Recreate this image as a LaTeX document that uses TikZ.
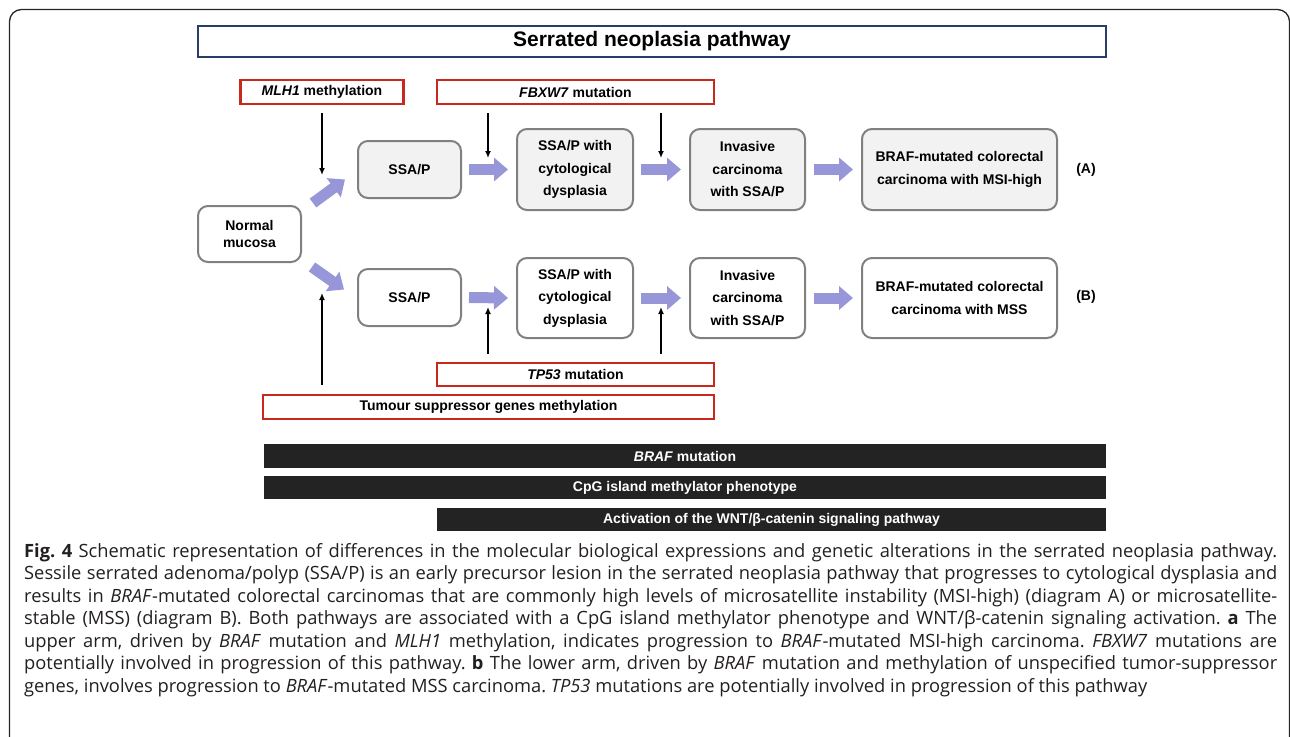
\documentclass[tikz,border=0pt]{standalone}
\usepackage{fontspec}
\setmainfont{Liberation Sans}
\newfontfamily\capfont{Open Sans}
\usetikzlibrary{arrows.meta,calc}
\definecolor{lav}{RGB}{150,150,216}
\definecolor{redb}{RGB}{200,40,30}
\definecolor{navy}{RGB}{40,62,105}
\definecolor{boxgray}{RGB}{128,128,128}
\definecolor{fillgray}{RGB}{242,242,242}
\definecolor{barcol}{RGB}{35,35,35}
\definecolor{captext}{RGB}{35,31,32}
\frenchspacing
\begin{document}
\begin{tikzpicture}[x=1pt,y=-1pt,
  every node/.style={font=\bfseries\fontsize{14}{22.5}\selectfont, inner sep=0pt},
  stagebox/.style={draw=boxgray, line width=2pt, rounded corners=10pt, align=center, fill=white},
  stageA/.style={stagebox, fill=fillgray},
  redbox/.style={draw=redb, line width=2.5pt, fill=white},
  titlebox/.style={draw=navy, line width=2.5pt, fill=white, font=\bfseries\fontsize{21}{24}\selectfont},
  barbox/.style={fill=barcol, text=white},
  fat/.style={draw=lav, line width=11pt, -{Triangle[length=14pt,width=23pt]}},
  tarrow/.style={draw=black, line width=1.5pt, -{Latex[length=7pt,width=6pt]}},
  capline/.style={anchor=base west, font=\capfont\fontsize{18.3}{23}\selectfont\frenchspacing, text=captext, inner sep=0pt}
]
\useasboundingbox (0,0) rectangle (1290,736);
\clip (0,0) rectangle (1290,736);
\draw[line width=1.3pt, black!85, rounded corners=12pt] (9.5,9.5) rectangle (1289.5,760);

% title
\node[titlebox, minimum width=908pt, minimum height=31pt] (title) at (652,41.5) {Serrated neoplasia pathway};

% red label boxes
\node[redbox, minimum width=163pt, minimum height=24pt] (mlh) at (322,92) {\textit{MLH1} methylation};
\node[redbox, minimum width=277pt, minimum height=24pt] (fbx) at (575.5,92) {\textit{FBXW7} mutation};
\node[redbox, minimum width=277pt, minimum height=23pt] (tp) at (575.5,374.5) {\textit{TP53} mutation};
\node[redbox, minimum width=451pt, minimum height=24pt] (tsg) at (488.5,407) {Tumour suppressor genes methylation};

% stage boxes
\node[stagebox, minimum width=103pt, minimum height=56pt] (norm) at (249.5,234) {Normal\\[-5pt]mucosa};
\node[stageA, minimum width=103pt, minimum height=57pt] (ssaA) at (409.5,169.5) {SSA/P};
\node[stageA, minimum width=116pt, minimum height=81pt] (dysA) at (575,169.5) {SSA/P with\\cytological\\dysplasia};
\node[stageA, minimum width=115pt, minimum height=81pt] (invA) at (747.5,169.5) {Invasive\\carcinoma\\with SSA/P};
\node[stageA, minimum width=195pt, minimum height=81pt] (brafA) at (959.5,169.5) {BRAF-mutated colorectal\\carcinoma with MSI-high};
\node (labA) at (1086,170) {(A)};

\node[stagebox, minimum width=103pt, minimum height=57pt] (ssaB) at (409.5,297.5) {SSA/P};
\node[stagebox, minimum width=116pt, minimum height=80pt] (dysB) at (575,298) {SSA/P with\\cytological\\dysplasia};
\node[stagebox, minimum width=115pt, minimum height=80pt] (invB) at (747.5,298) {Invasive\\carcinoma\\with SSA/P};
\node[stagebox, minimum width=195pt, minimum height=80pt] (brafB) at (959.5,298) {BRAF-mutated colorectal\\carcinoma with MSS};
\node (labB) at (1086,297) {(B)};

% fat arrows
\draw[fat] ($(norm.north east)+(11,-2)$) -- ($(ssaA.west)+(-12,10)$);
\draw[fat] ($(norm.south east)+(10,4)$) -- ($(ssaB.west)+(-13,-8)$);
\draw[fat] ($(ssaA.east)+(7,0)$) -- ($(dysA.west)+(-8,0)$);
\draw[fat] ($(dysA.east)+(7,0)$) -- ($(invA.west)+(-8,0)$);
\draw[fat] ($(invA.east)+(8,0)$) -- ($(brafA.west)+(-8,0)$);
\draw[fat] ($(ssaB.east)+(7,0)$) -- ($(dysB.west)+(-8,0)$);
\draw[fat] ($(dysB.east)+(7,0)$) -- ($(invB.west)+(-8,0)$);
\draw[fat] ($(invB.east)+(8,0)$) -- ($(brafB.west)+(-8,0)$);

% thin arrows
\coordinate (mEnd) at (322,175);
\coordinate (f1) at (488,158);
\coordinate (f2) at (661,158);
\coordinate (t1) at (488,307);
\coordinate (t2) at (661,307);
\coordinate (s1) at (322,293);
\draw[tarrow] ($(mlh.south)+(0,8)$) -- (mEnd);
\draw[tarrow] ($(fbx.south -| f1)+(0,8)$) -- (f1);
\draw[tarrow] ($(fbx.south -| f2)+(0,8)$) -- (f2);
\draw[tarrow] ($(tp.north -| t1)+(0,-8)$) -- (t1);
\draw[tarrow] ($(tp.north -| t2)+(0,-8)$) -- (t2);
\draw[tarrow] ($(tsg.north -| s1)+(0,-9)$) -- (s1);

% black bars
\node[barbox, minimum width=842pt, minimum height=24pt] (bbraf) at (685,456) {\textit{BRAF} mutation};
\node[barbox, minimum width=842pt, minimum height=23pt] (bcpg) at (685,487.5) {CpG island methylator phenotype};
\node[barbox, minimum width=669pt, minimum height=23pt] (bwnt) at (771.5,519.5) {Activation of the WNT/β-catenin signaling pathway};

% caption
\node[capline] (c1) at (24,557) {\makebox[1253pt][s]{\textbf{Fig. 4} Schematic representation of differences in the molecular biological expressions and genetic alterations in the serrated neoplasia pathway.}};
\node[capline] (c2) at (24,579.5) {\makebox[1253pt][s]{Sessile serrated adenoma/polyp (SSA/P) is an early precursor lesion in the serrated neoplasia pathway that progresses to cytological dysplasia and}};
\node[capline] (c3) at (24,602) {\makebox[1253pt][s]{results in \textit{BRAF}-mutated colorectal carcinomas that are commonly high levels of microsatellite instability (MSI-high) (diagram A) or microsatellite-}};
\node[capline] (c4) at (24,624.5) {\makebox[1253pt][s]{stable (MSS) (diagram B). Both pathways are associated with a CpG island methylator phenotype and WNT/β-catenin signaling activation. \textbf{a} The}};
\node[capline] (c5) at (24,647) {\makebox[1253pt][s]{upper arm, driven by \textit{BRAF} mutation and \textit{MLH1} methylation, indicates progression to \textit{BRAF}-mutated MSI-high carcinoma. \textit{FBXW7} mutations are}};
\node[capline] (c6) at (24,669.5) {\makebox[1253pt][s]{potentially involved in progression of this pathway. \textbf{b} The lower arm, driven by \textit{BRAF} mutation and methylation of unspecified tumor-suppressor}};
\node[capline] (c7) at (24,692) {genes, involves progression to \textit{BRAF}-mutated MSS carcinoma. \textit{TP53} mutations are potentially involved in progression of this pathway};
\end{tikzpicture}
\end{document}
